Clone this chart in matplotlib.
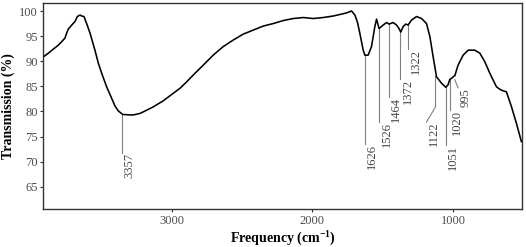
import numpy as np
import matplotlib
matplotlib.use("Agg")
import matplotlib.pyplot as plt

plt.rcParams.update({
    "font.family": ["Liberation Serif", "DejaVu Serif"],
    "mathtext.fontset": "custom",
    "mathtext.rm": "Liberation Serif",
    "mathtext.bf": "Liberation Serif:bold",
})

# FTIR spectrum (wavenumber in cm-1, transmission in %)
freq = [3905, 3876, 3841, 3805, 3781, 3758, 3746, 3734, 3710, 3687, 3670, 3651,
        3639, 3623, 3604, 3580, 3545, 3521, 3497, 3462, 3426, 3403, 3379, 3348,
        3296, 3273, 3225, 3202, 3131, 3060, 2989, 2941, 2893, 2834, 2776, 2705,
        2634, 2563, 2491, 2420, 2349, 2278, 2207, 2136, 2065, 1994, 1923, 1852,
        1805, 1760, 1722, 1698, 1680, 1663, 1639, 1627, 1604, 1580, 1556, 1544,
        1526, 1497, 1473, 1455, 1426, 1402, 1384, 1372, 1355, 1336, 1320, 1295,
        1260, 1224, 1189, 1165, 1142, 1118, 1082, 1052, 1036, 1023, 1011, 995,
        988, 965, 929, 893, 846, 810, 775, 739, 692, 668, 645, 621, 585, 550, 515]
trans = [91.0, 91.6, 92.4, 93.2, 93.9, 94.6, 95.6, 96.4, 97.2, 97.9, 98.9, 99.2,
         99.0, 98.9, 97.5, 95.6, 92.2, 89.6, 87.6, 84.9, 82.6, 81.1, 80.1, 79.4,
         79.3, 79.3, 79.6, 79.9, 80.9, 82.1, 83.6, 84.6, 85.9, 87.6, 89.2, 91.2,
         92.9, 94.2, 95.4, 96.2, 97.0, 97.5, 98.1, 98.5, 98.7, 98.5, 98.7, 99.0,
         99.3, 99.6, 100.0, 99.2, 97.8, 95.6, 92.2, 91.2, 91.2, 92.9, 96.9, 98.4,
         96.5, 97.2, 97.7, 97.4, 97.7, 97.2, 96.5, 95.8, 96.9, 97.4, 97.2, 98.2,
         98.9, 98.5, 97.5, 94.9, 90.9, 86.9, 85.6, 84.8, 85.3, 86.4, 86.6, 87.0,
         87.1, 89.2, 91.2, 92.2, 92.2, 91.6, 89.9, 87.6, 84.9, 84.4, 84.1, 83.9,
         80.9, 77.6, 74.0]

# peak labels: name, peak position, curve value, label anchor (freq, trans)
peak_names = ["3357", "1626", "1526", "1464", "1372", "1322", "1122", "1051", "1020", "995"]
peak_freq = [3351, 1627, 1526, 1457, 1374, 1320, 1125, 1052, 1023, 988]
peak_trans = [79.4, 91.2, 96.5, 97.4, 95.8, 97.2, 86.9, 84.8, 86.4, 86.3]
label_freq = [3351, 1627, 1526, 1457, 1374, 1320, 1189, 1052, 1023, 965]
label_trans = [71.7, 73.6, 77.9, 82.9, 86.4, 92.4, 77.9, 73.3, 80.3, 84.7]
# 1122 has a bent leader: vertical part ends here before the diagonal
bend = {"1122": 80.9}

fig = plt.figure(figsize=(5.26, 2.47), dpi=100)
ax = fig.add_axes([0.0823, 0.1526, 0.9097, 0.8364])

ax.plot(freq, trans, color="black", lw=1.15, zorder=3)

for name, pf, pt, lf, lt in zip(peak_names, peak_freq, peak_trans, label_freq, label_trans):
    if name in bend:
        xs = [pf, pf, lf]; ys = [pt, bend[name], lt]
    else:
        xs = [pf, lf]; ys = [pt, lt]
    ax.plot(xs, ys, color="#7f7f7f", lw=0.8, zorder=2)
    ax.annotate(name, xy=(lf, lt), xytext=(5.4, 0), textcoords="offset points",
                rotation=90, ha="center", va="top", fontsize=9, color="#444444")

ax.set_xlim(3912, 512)
ax.set_ylim(60.5, 101.65)
ax.set_xticks([3000, 2000, 1000])
ax.set_yticks([65, 70, 75, 80, 85, 90, 95, 100])
ax.tick_params(axis="both", length=2.5, width=0.8, color="#333333",
               labelsize=9, labelcolor="#4d4d4d", pad=1.5)
for sp in ax.spines.values():
    sp.set_color("#333333"); sp.set_linewidth(1.0)

ax.set_xlabel(r"Frequency (cm$^{\mathbf{-1}}$)", fontsize=10, fontweight="bold", labelpad=0.5)
ax.set_ylabel("Transmission (%)", fontsize=10, fontweight="bold", labelpad=3)

fig.savefig("out.png", dpi=100)
